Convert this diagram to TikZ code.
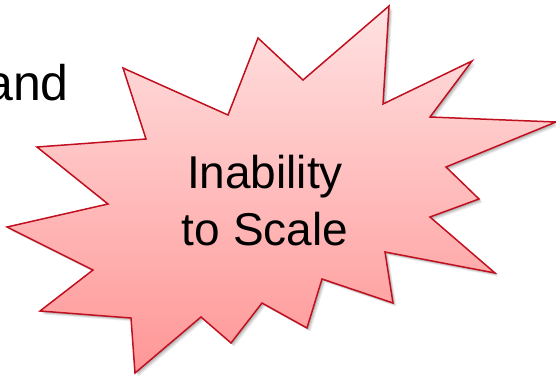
\documentclass[tikz,border=0pt]{standalone}
\usepackage{fontspec}
\setmainfont{Liberation Sans}
\definecolor{burstline}{RGB}{192,16,32}
\definecolor{bursttop}{RGB}{255,226,226}
\definecolor{burstbot}{RGB}{255,150,150}
\tikzset{
  bursttext/.style={font=\fontsize{46}{57}\selectfont, align=center, text=black, inner sep=0pt},
  sidetext/.style={font=\fontsize{50}{60}\selectfont, text=black, inner sep=0pt, anchor=base east}
}
\begin{document}
\begin{tikzpicture}[x=1pt,y=-1pt]
\useasboundingbox (0,0) rectangle (556,375);
\def\burst{(556,122) -- (446,167) -- (479,199) -- (430,217) -- (495,273) -- (385,252) -- (393,303) -- (322,279) -- (307,328) -- (262,303) -- (231,343) -- (201,317) -- (135,373) -- (131,318) -- (40,311) -- (93,270) -- (7,227) -- (108,204) -- (37,147) -- (146,139) -- (123,68) -- (228,115) -- (258,38) -- (303,80) -- (389,6) -- (383,104) -- (472,61) -- (430,117) -- cycle}
% shadow
\foreach \d/\o in {3.5/0.08,2.5/0.10,1.5/0.12}{
  \fill[black,opacity=\o,shift={(\d,\d)}] \burst;
}
\shade[top color=bursttop,bottom color=burstbot,draw=burstline,line width=1.5pt,line join=miter] \burst;
\node[sidetext] (and) at (69,100) {and};
\node[bursttext] (label) at (265,201) {Inability\\to Scale};
\end{tikzpicture}
\end{document}
